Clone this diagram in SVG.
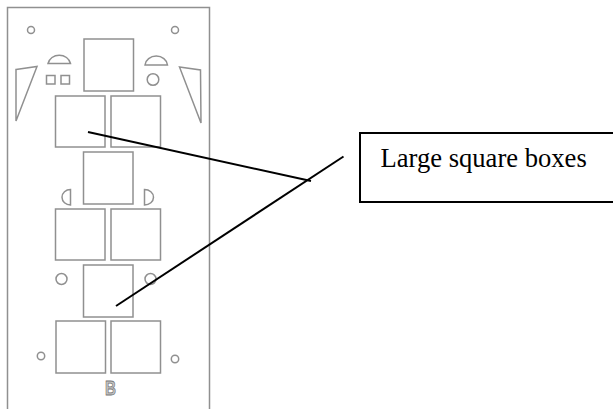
<svg xmlns="http://www.w3.org/2000/svg" width="613" height="409" viewBox="0 0 613 409">
<style>
.g{fill:none;stroke:#909090;stroke-width:1.5}
.k{fill:none;stroke:#000;stroke-width:2}
text{font-family:"Liberation Serif","Times New Roman",serif;fill:#000}
</style>
<rect width="613" height="409" fill="#fff"/>
<g id="panel">
<path class="g" d="M7.500 409V7.500H209.500V409"/>
<circle class="g" cx="31" cy="30" r="3.500"/><circle class="g" cx="175" cy="30" r="3.500"/>
<circle class="g" cx="41" cy="356" r="3.700"/><circle class="g" cx="175" cy="359" r="3.700"/>
<circle class="g" cx="61.500" cy="279" r="5.500"/><circle class="g" cx="150.500" cy="279" r="5.500"/>
<circle class="g" cx="153" cy="79.500" r="5.800"/>
<rect class="g" x="46.500" y="75.500" width="8.500" height="8.500"/><rect class="g" x="61" y="75.500" width="8.500" height="8.500"/>
<path class="g" d="M48 63.500A11.500 10.500 0 0 1 70.500 63.500Z"/>
<path class="g" d="M145 65A11.300 9.800 0 0 1 167.500 65Z"/>
<path class="g" d="M16 69.500L37 66.500L16 121Z"/>
<path class="g" d="M179.500 67L200.500 70L201 123Z"/>
<path class="g" d="M70.500 189.500V205A8.500 7.750 0 0 1 70.500 189.500Z"/>
<path class="g" d="M144.500 189.500V205A9 7.750 0 0 0 144.500 189.500Z"/>
<text x="105" y="394.500" textLength="11" lengthAdjust="spacingAndGlyphs" font-size="20" font-weight="bold" style="font-family:'Liberation Sans',sans-serif;fill:#c4c4c4;stroke:#777;stroke-width:.8">B</text>
</g>
<g id="box-1"><rect class="g" x="84" y="39" width="49.500" height="52"/></g>
<g id="box-2"><rect class="g" x="55.500" y="96" width="49.500" height="51"/></g>
<g id="box-3"><rect class="g" x="111" y="96" width="49.500" height="51"/></g>
<g id="box-4"><rect class="g" x="83.500" y="152" width="49.500" height="52"/></g>
<g id="box-5"><rect class="g" x="55.500" y="209" width="49.500" height="51"/></g>
<g id="box-6"><rect class="g" x="111" y="209" width="49.500" height="51"/></g>
<g id="box-7"><rect class="g" x="83.500" y="265" width="49.500" height="52"/></g>
<g id="box-8"><rect class="g" x="56" y="321" width="49.500" height="52"/></g>
<g id="box-9"><rect class="g" x="111" y="321" width="49.500" height="52"/></g>
<g id="connectors">
<path class="k" d="M88 132L311 181"/>
<path class="k" d="M116 306L343.500 156.500"/>
</g>
<g id="label">
<rect class="k" x="360" y="133" width="260" height="69"/>
<text x="380.500" y="167" font-size="26.600">Large square boxes</text>
</g>
</svg>
